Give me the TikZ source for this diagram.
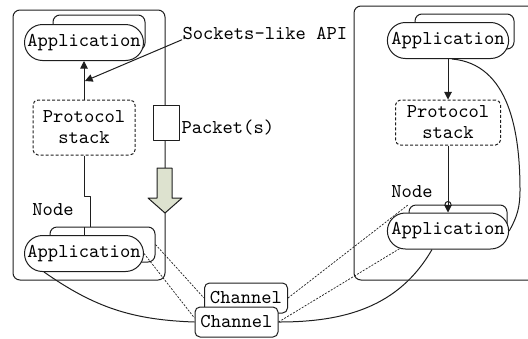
\documentclass[tikz,border=0pt]{standalone}
\usepackage{fontspec}
\usepackage{tikz}
\usetikzlibrary{positioning, arrows.meta, shapes.misc, calc}
\definecolor{nw-olive}{RGB}{221,226,207}
\definecolor{nw-ink}{RGB}{30,30,30}
\tikzset{
  nw@font/.style={font=\fontsize{9.8}{10.5}\selectfont\ttfamily},
  nw@box/.style={draw, rounded corners=3.5pt, inner sep=0pt},
  nw@app/.style={
    draw, fill=white, rounded rectangle,
    minimum width=61.5pt, minimum height=18pt,
    inner sep=1pt, nw@font
  },
  nw@back/.style={
    draw, fill=white, rounded corners=3.5pt,
    minimum height=17.5pt, inner sep=0pt
  },
  nw@stack/.style={
    draw, dash pattern=on 1.5pt off 1pt, fill=white, rounded corners=2.5pt,
    align=center, inner sep=1pt, nw@font
  },
  nw@chan/.style={
    draw, fill=white, rounded corners=2.5pt,
    minimum width=41.5pt, minimum height=15pt,
    inner sep=1pt, nw@font
  },
  nw@arr/.style={-{Triangle[length=3.8pt, width=3.8pt]}},
  nw@link/.style={dash pattern=on 1pt off 0.7pt, line width=0.35pt},
  nw@lbl/.style={nw@font, inner sep=0pt},
}

\begin{document}
\begin{tikzpicture}[x=0.5pt, y=-0.5pt, line width=0.5pt, draw=nw-ink, line join=round]
  \useasboundingbox (0,0) rectangle (528,338);
  % hosts
  \node[nw@box, minimum width=76pt, minimum height=135pt] (lhost) at (89,145) {};
  \node[nw@box, minimum width=95pt, minimum height=137pt] (rhost) at (449,143) {};
  % applications (back copy first, then the front one)
  \node[nw@back, minimum width=46pt]   (ltback) at (99,32.5)    {};
  \node[nw@app]                        (ltapp)  at (84,42.5)    {Application};
  \node[nw@back, minimum width=52.5pt] (lbback) at (102.5,244.5) {};
  \node[nw@app]                        (lbapp)  at (84,253.5)   {Application};
  \node[nw@back, minimum width=49.5pt] (rtback) at (464.5,31.5) {};
  \node[nw@app, minimum width=60pt]    (rtapp)  at (448,40.5)   {Application};
  \node[nw@back, minimum width=49pt]   (rbback) at (458,222.5)  {};
  \node[nw@app, minimum width=59.5pt]  (rbapp)  at (448,231)    {Application};
  % protocol stacks
  \node[nw@stack, minimum width=51pt, minimum height=27.5pt]   (lstack) at (84,127.5)  {Protocol\\stack};
  \node[nw@stack, minimum width=52.5pt, minimum height=22.5pt] (rstack) at (448,122.5) {Protocol\\stack};
  % packet on the wire
  \node[draw, fill=white, minimum width=13pt, minimum height=17.5pt, inner sep=0pt] (pkt) at (166,122.5) {};
  \node[nw@lbl, anchor=west] (pktlbl) at (181,127) {Packet(s)};
  \draw[fill=nw-olive] (157,168) -- (172,168) -- (172,198) -- (182,198) -- (165,213)
    -- (148,198) -- (157,198) -- cycle;
  % channels
  \node[nw@chan] (bchan) at (246,298)   {Channel};
  \node[nw@chan] (fchan) at (236.5,322) {Channel};
  % labels
  \node[nw@lbl, anchor=west] (api) at (182,33) {Sockets-like API};
  \node[nw@lbl] (lnode) at (53,210)  {Node};
  \node[nw@lbl] (rnode) at (412,192) {Node};

  % left host
  \coordinate (apihit) at (85,81);
  \draw[nw@arr] (lstack.north) -- (ltapp.south);
  \draw[nw@arr] (api.south west) -- (apihit);
  \draw (lstack.south) -- ++(0,41) -| ($(lbback.north)+(-12,0)$);
  \draw (lbapp.north) -- (lbapp.north |- lbback.north);
  % right host
  \draw[nw@arr] (rtapp.south) -- (rstack.north);
  \node[draw, circle, fill=white, inner sep=0pt, minimum size=3pt] (rjoin) at (rstack.south |- rbback.north) {};
  \draw[nw@arr] (rstack.south) -- (rbapp.north);
  \coordinate (rbend) at (520,190);
  \draw ($(rtapp.south)+(4,0)$) to[out=-5, in=90] (rbend) to[out=-90, in=60] (rbapp.east);
  % links through the channels
  \draw ($(lbapp.south)+(-40,0)$) to[out=-35, in=178] (fchan.west);
  \draw (fchan.east) to[out=0, in=240] ($(rbapp.south)+(-16,0)$);
  \draw[nw@link] (lbback.east) -- (bchan.west);
  \draw[nw@link] (lbapp.east) -- ($(fchan.west)+(0,-4)$);
  \draw[nw@link] (bchan.east) -- (rbback.north west);
  \draw[nw@link] (fchan.east) -- (rbapp.200);
\end{tikzpicture}
\end{document}
